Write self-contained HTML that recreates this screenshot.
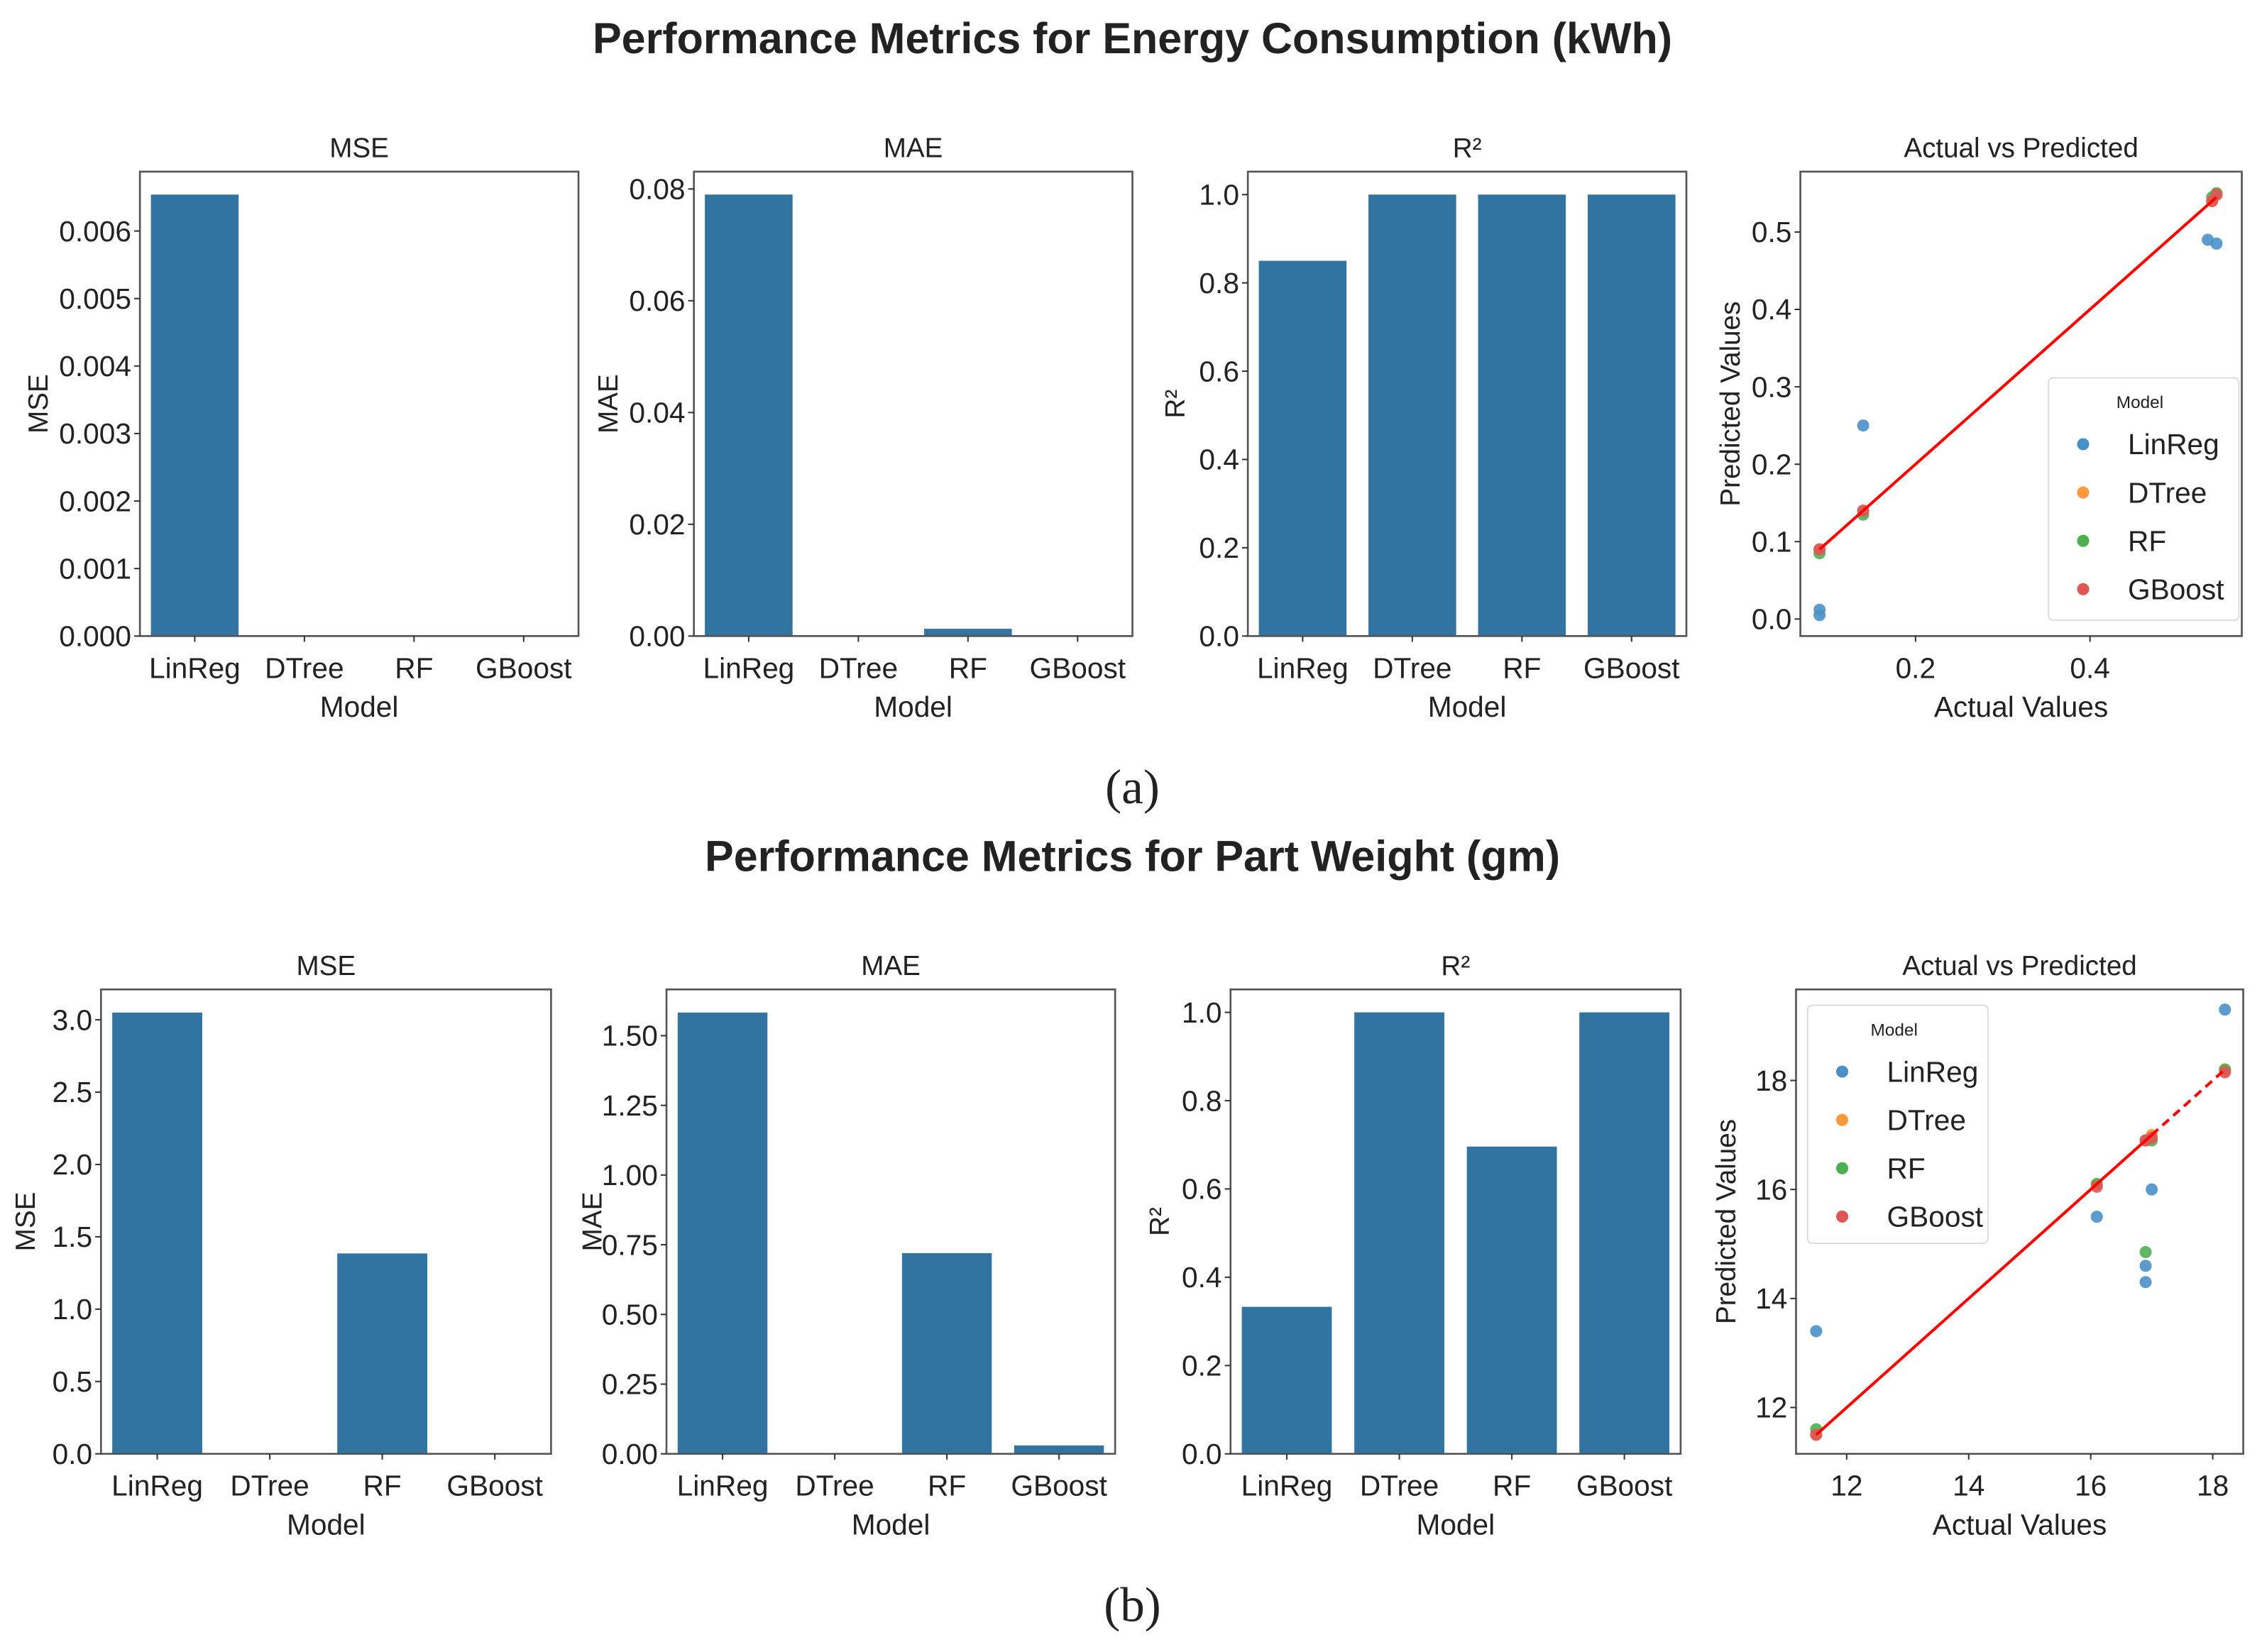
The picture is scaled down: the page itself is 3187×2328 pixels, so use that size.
<!DOCTYPE html>
<html><head><meta charset="utf-8">
<style>
html,body{margin:0;padding:0;background:#fff;}
svg{display:block;}
text{font-family:"Liberation Sans Narrow","Liberation Sans",sans-serif;fill:#222;}
</style></head>
<body>
<svg id="fig" width="3187" height="2328" viewBox="0 0 1568 1145.4" preserveAspectRatio="none" xmlns="http://www.w3.org/2000/svg">
<text x="785" y="37" text-anchor="middle" font-size="30" font-weight="bold" style="font-family:'Liberation Sans',sans-serif">Performance Metrics for Energy Consumption (kWh)</text>
<text x="785" y="557" text-anchor="middle" font-size="34" style="font-family:'Liberation Serif',serif">(a)</text>
<text x="785" y="604" text-anchor="middle" font-size="30" font-weight="bold" style="font-family:'Liberation Sans',sans-serif">Performance Metrics for Part Weight (gm)</text>
<text x="785" y="1124" text-anchor="middle" font-size="34" style="font-family:'Liberation Serif',serif">(b)</text>
</svg>
<script>
const models = ["LinReg","DTree","RF","GBoost"];
// Energy consumption metrics
const energyMSE = [0.00654, 0, 0, 0];
const energyMAE = [0.079, 0, 0.0013, 0];
const energyR2 = [0.85, 1.0, 1.0, 1.0];
// Part weight metrics
const weightMSE = [3.05, 0, 1.385, 0];
const weightMAE = [1.583, 0, 0.72, 0.03];
const weightR2 = [0.333, 1.0, 0.696, 1.0];
// tick labels
const ticksEnergyMSE = ["0.000","0.001","0.002","0.003","0.004","0.005","0.006"];
const ticksEnergyMAE = ["0.00","0.02","0.04","0.06","0.08"];
const ticksR2 = ["0.0","0.2","0.4","0.6","0.8","1.0"];
const ticksWeightMSE = ["0.0","0.5","1.0","1.5","2.0","2.5","3.0"];
const ticksWeightMAE = ["0.00","0.25","0.50","0.75","1.00","1.25","1.50"];
// scatter data energy
const eLinX = [0.09,0.09,0.14,0.535,0.545];
const eLinY = [0.005,0.012,0.25,0.49,0.485];
const eDTreeX = [0.09,0.14,0.54,0.545];
const eDTreeY = [0.09,0.14,0.54,0.55];
const eRFX = [0.09,0.14,0.54,0.545];
const eRFY = [0.085,0.135,0.545,0.55];
const eGBX = [0.09,0.14,0.54,0.545];
const eGBY = [0.09,0.14,0.54,0.548];
const eXTicks = ["0.2","0.4"];
const eYTicks = ["0.0","0.1","0.2","0.3","0.4","0.5"];
// scatter data weight
const wLinX = [11.5,16.1,16.9,16.9,17.0,18.2];
const wLinY = [13.4,15.5,14.6,14.3,16.0,19.3];
const wDTreeX = [11.5,16.1,16.9,17.0,18.2];
const wDTreeY = [11.5,16.1,16.9,17.0,18.2];
const wRFX = [11.5,16.1,16.9,16.9,17.0,18.2];
const wRFY = [11.6,16.1,14.85,16.9,16.9,18.2];
const wGBX = [11.5,16.1,16.9,17.0,18.2];
const wGBY = [11.5,16.05,16.9,16.95,18.15];
const wXTicks = ["12","14","16","18"];
const wYTicks = ["12","14","16","18"];

const NS = "http://www.w3.org/2000/svg";
const svg = document.getElementById("fig");
function mk(tag, attrs, parent){
  const e = document.createElementNS(NS, tag);
  for (const k in attrs) e.setAttribute(k, attrs[k]);
  (parent||svg).appendChild(e);
  return e;
}
function txt(s, attrs, parent){ const t = mk("text", attrs, parent); t.textContent = s; return t; }

function barChart(name, box, values, ticks, ymax, title, ylabel, ylabOff){
  const g = mk("g", {});
  
  
  const [x0,y0,x1,y1] = box;
  const ys = v => y1 - (v/ymax)*(y1-y0);
  const slot = (x1-x0)/models.length;
  values.forEach((v,i)=>{
    const r = mk("rect", {x: x0+slot*i+slot*0.1, y: ys(v), width: slot*0.8, height: Math.max(0, y1-ys(v)), fill:"#3274a1"}, g);
    
    
  });
  const fr = mk("rect", {x:x0, y:y0, width:x1-x0, height:y1-y0, fill:"none", stroke:"#555", "stroke-width":1.3}, g);
  
  
  ticks.forEach(t=>{
    const y = ys(parseFloat(t));
    mk("line", {x1:x0-4, x2:x0, y1:y, y2:y, stroke:"#333", "stroke-width":1}, g);
    const tl = txt(t, {x:x0-6, y:y+7, "text-anchor":"end", "font-size":20}, g);
    
    
  });
  models.forEach((m,i)=>{
    const x = x0+slot*(i+0.5);
    mk("line", {x1:x, x2:x, y1:y1, y2:y1+4, stroke:"#333", "stroke-width":1}, g);
    const tl = txt(m, {x:x, y:y1+29, "text-anchor":"middle", "font-size":20}, g);
    
    
  });
  const tt = txt(title, {x:(x0+x1)/2, y:y0-10, "text-anchor":"middle", "font-size":19}, g);
  
  
  const xl = txt("Model", {x:(x0+x1)/2, y:y1+56, "text-anchor":"middle", "font-size":20}, g);
  
  
  const yl = txt(ylabel, {x:0, y:0, "text-anchor":"middle", "font-size":19, transform:`translate(${x0-ylabOff},${(y0+y1)/2}) rotate(-90)`}, g);
  
  
}

const colors = {LinReg:"#4a90c8", DTree:"#ff9a3c", RF:"#4caf50", GBoost:"#e15555"};
function scatter(name, box, xr, yr, series, xt, yt, lineFrom, lineTo, dashFrom, legendBox){
  const g = mk("g", {});
  
  
  const [x0,y0,x1,y1] = box;
  const xs = v => x0 + (v-xr[0])/(xr[1]-xr[0])*(x1-x0);
  const ys = v => y1 - (v-yr[0])/(yr[1]-yr[0])*(y1-y0);
  series.forEach(s=>{
    s.x.forEach((xv,i)=>{
      const c = mk("circle", {cx:xs(xv), cy:ys(s.y[i]), r:4.2, fill:colors[s.name], "fill-opacity":0.9}, g);
      
      
    });
  });
  const mid = dashFrom==null ? lineTo : dashFrom;
  const l1 = mk("line", {x1:xs(lineFrom), y1:ys(lineFrom), x2:xs(mid), y2:ys(mid), stroke:"#ff0000", "stroke-width":2}, g);
  
  
  if (dashFrom!=null){
    const l2 = mk("line", {x1:xs(dashFrom), y1:ys(dashFrom), x2:xs(lineTo), y2:ys(lineTo), stroke:"#ff0000", "stroke-width":2, "stroke-dasharray":"6,4"}, g);
    
    
  }
  const fr = mk("rect", {x:x0, y:y0, width:x1-x0, height:y1-y0, fill:"none", stroke:"#555", "stroke-width":1.3}, g);
  
  
  xt.forEach(t=>{
    const x = xs(parseFloat(t));
    mk("line", {x1:x, x2:x, y1:y1, y2:y1+4, stroke:"#333"}, g);
    const tl = txt(t, {x:x, y:y1+29, "text-anchor":"middle", "font-size":20}, g);
    
    
  });
  yt.forEach(t=>{
    const y = ys(parseFloat(t));
    mk("line", {x1:x0-4, x2:x0, y1:y, y2:y, stroke:"#333"}, g);
    const tl = txt(t, {x:x0-6, y:y+7, "text-anchor":"end", "font-size":20}, g);
    
    
  });
  const tt = txt("Actual vs Predicted", {x:(x0+x1)/2, y:y0-10, "text-anchor":"middle", "font-size":19}, g);
  
  
  const xl = txt("Actual Values", {x:(x0+x1)/2, y:y1+56, "text-anchor":"middle", "font-size":20}, g);
  
  
  const yl = txt("Predicted Values", {x:0, y:0, "text-anchor":"middle", "font-size":19, transform:`translate(${x0-42},${(y0+y1)/2}) rotate(-90)`}, g);
  
  
  const [lx,ly,lw,lh] = legendBox;
  const lg = mk("g", {}, g);
  
  
  mk("rect", {x:lx, y:ly, width:lw, height:lh, rx:3, fill:"#fff", "fill-opacity":0.85, stroke:"#ddd", "stroke-width":1}, lg);
  txt("Model", {x:lx+lw*0.48, y:ly+21, "text-anchor":"middle", "font-size":12}, lg);
  models.forEach((m,i)=>{
    const cy = ly+46+i*33.5;
    const e = mk("g", {}, lg);
    
    
    mk("circle", {cx:lx+24, cy:cy, r:4.2, fill:colors[m]}, e);
    txt(m, {x:lx+55, y:cy+7, "font-size":20}, e);
  });
}

barChart("energy-mse-chart", [97,119,401,441], energyMSE, ticksEnergyMSE, 0.00688, "MSE", "MSE", 64);
barChart("energy-mae-chart", [481,119,785,441], energyMAE, ticksEnergyMAE, 0.0831, "MAE", "MAE", 53);
barChart("energy-r2-chart", [865,119,1169,441], energyR2, ticksR2, 1.052, "R²", "R²", 44);
scatter("energy-scatter", [1248,119,1554,441], [0.068,0.574], [-0.022,0.578],
  [{name:"LinReg",x:eLinX,y:eLinY},{name:"DTree",x:eDTreeX,y:eDTreeY},{name:"RF",x:eRFX,y:eRFY},{name:"GBoost",x:eGBX,y:eGBY}],
  eXTicks, eYTicks, 0.09, 0.545, null, [1420,262,132,168]);

barChart("weight-mse-chart", [70,686,382,1008], weightMSE, ticksWeightMSE, 3.21, "MSE", "MSE", 46);
barChart("weight-mae-chart", [462,686,773,1008], weightMAE, ticksWeightMAE, 1.666, "MAE", "MAE", 45);
barChart("weight-r2-chart", [853,686,1165,1008], weightR2, ticksR2, 1.052, "R²", "R²", 43);
scatter("weight-scatter", [1245,686,1555,1008], [11.17,18.5], [11.15,19.67],
  [{name:"LinReg",x:wLinX,y:wLinY},{name:"DTree",x:wDTreeX,y:wDTreeY},{name:"RF",x:wRFX,y:wRFY},{name:"GBoost",x:wGBX,y:wGBY}],
  wXTicks, wYTicks, 11.5, 18.2, 17.0, [1253,697,125,165]);
</script>
</body></html>
